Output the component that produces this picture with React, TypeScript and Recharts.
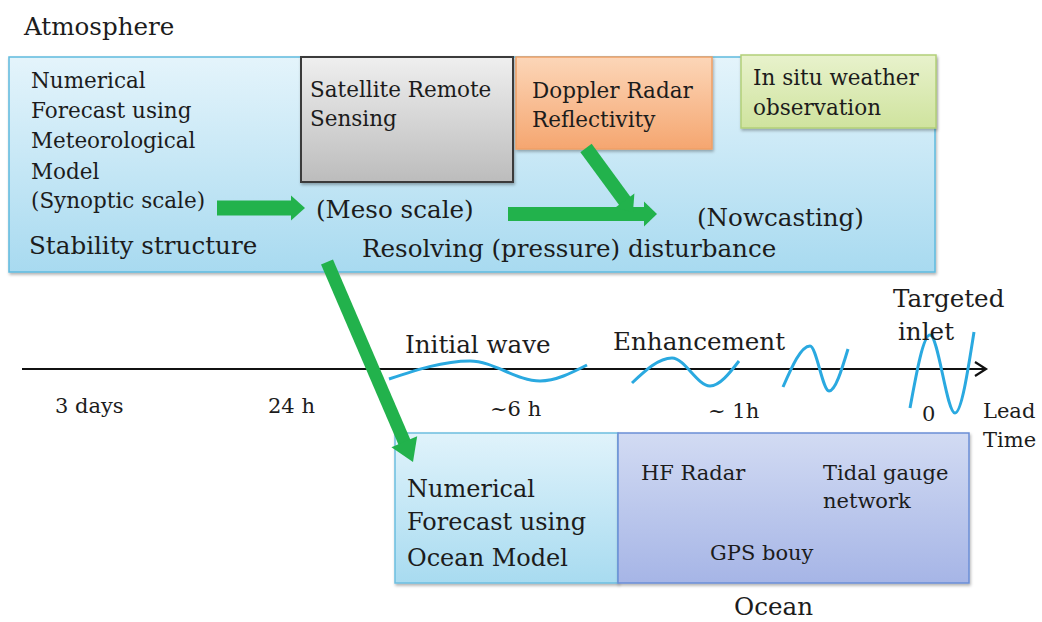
import React from 'react';
import { ComposedChart, XAxis, YAxis, ReferenceArea, Line, Scatter } from 'recharts';

// ---------- diagram data (pixel-space coordinates of the 1042x622 picture) ----------
const boxIds = ['atm', 'sat', 'dop', 'ins', 'ocm', 'oco'];
const boxX1 = [9, 301, 516, 741, 395, 618];
const boxX2 = [935, 513, 712, 936, 618, 969];
const boxY1 = [57, 57, 57, 55, 433, 433];
const boxY2 = [272, 182, 149, 128, 583, 583];

const labelTexts = [
  'Atmosphere',
  'Numerical', 'Forecast using', 'Meteorological', 'Model', '(Synoptic scale)',
  'Stability structure',
  'Satellite Remote', 'Sensing',
  '(Meso scale)',
  'Resolving (pressure) disturbance',
  'Doppler Radar', 'Reflectivity',
  'In situ weather', 'observation',
  '(Nowcasting)',
  'Initial wave', 'Enhancement', 'Targeted', 'inlet',
  '3 days', '24 h', '~6 h', '~ 1h', '0', 'Lead', 'Time',
  'Numerical', 'Forecast using', 'Ocean Model',
  'HF Radar', 'Tidal gauge', 'network', 'GPS bouy',
  'Ocean',
];
const labelX = [
  24,
  31, 31, 31, 31, 31,
  29,
  310, 310,
  316,
  362,
  532, 532,
  753, 753,
  697,
  405, 613, 893, 898,
  55, 268, 490, 708, 922, 983, 983,
  407, 407, 407,
  641, 823, 823, 710,
  734,
];
const labelY = [
  35,
  88, 118, 148, 179, 208,
  254,
  97, 126,
  218,
  257,
  98, 127,
  85, 115,
  226,
  353, 350, 307, 340,
  413, 413, 416, 418, 421, 418, 447,
  497, 530, 566,
  480, 480, 508, 560,
  615,
];
const labelKind = [
  'big',
  'mid', 'mid', 'mid', 'mid', 'mid',
  'big',
  'mid', 'mid',
  'big',
  'big',
  'mid', 'mid',
  'mid', 'mid',
  'big',
  'big', 'big', 'big', 'big',
  'tick', 'tick', 'tick', 'tick', 'tick', 'tick', 'tick',
  'ocean', 'ocean', 'ocean',
  'tick', 'tick', 'tick', 'tick',
  'big',
];

// timeline
const timelineX = [22, 986];
const timelineY = 369;

// waves (start, peak, trough, end)
const wave1X = [389, 470, 540, 587];
const wave1Y = [379, 361, 381, 365];
const wave2X = [632, 672, 710, 739];
const wave2Y = [383, 358, 386, 361];
const wave3X = [783, 810, 829, 848];
const wave3Y = [387, 346, 391, 349];
const wave4X = [910, 930, 955, 974];
const wave4Y = [408, 335, 413, 332];

// green arrows: from -> tip
const arrowFromX = [217, 508, 586, 327];
const arrowFromY = [208, 214, 148, 262];
const arrowTipX = [305, 657, 633, 413];
const arrowTipY = [208, 214, 212, 462];

// ---------- styles ----------
const FONT = '"DejaVu Serif", serif';
const fontSizes: Record<string, number> = { big: 24.6, mid: 21.5, tick: 21, ocean: 24 };
const boxStyle: Record<string, { top: string; bottom: string; stroke: string; sw: number }> = {
  atm: { top: '#e4f4fb', bottom: '#a8daf0', stroke: '#5fbbde', sw: 1.5 },
  sat: { top: '#efefef', bottom: '#bcbcbc', stroke: '#3a3a3a', sw: 2 },
  dop: { top: '#fcd6b8', bottom: '#f5a670', stroke: '#f0a066', sw: 1.5 },
  ins: { top: '#e8f2cc', bottom: '#cfe39e', stroke: '#b3cf78', sw: 1.5 },
  ocm: { top: '#e0f3fb', bottom: '#a8dbf0', stroke: '#6cbfe0', sw: 1.5 },
  oco: { top: '#d2dbf3', bottom: '#a6b5e6', stroke: '#6b8ed6', sw: 1.5 },
};
const GREEN = '#22b24c';
const WAVE = '#2aa9e0';
const arrowShaft = [15, 14, 14, 13];
const arrowHeadLen = [14, 13, 14, 22];
const arrowHeadW = [25, 25, 24, 28];

const labels = labelTexts.map((t, i) => ({ x: labelX[i], y: labelY[i], text: t, kind: labelKind[i] }));
const mkWave = (xs: number[], ys: number[]) => xs.map((x, i) => ({ x, y: ys[i] }));
const waves = [mkWave(wave1X, wave1Y), mkWave(wave2X, wave2Y), mkWave(wave3X, wave3Y), mkWave(wave4X, wave4Y)];

const arrows = arrowFromX.map((fx, i) => {
  const dx = arrowTipX[i] - fx;
  const dy = arrowTipY[i] - arrowFromY[i];
  const len = Math.sqrt(dx * dx + dy * dy);
  const ux = dx / len, uy = dy / len;
  const bx = arrowTipX[i] - ux * (arrowHeadLen[i] - 1);
  const by = arrowTipY[i] - uy * (arrowHeadLen[i] - 1);
  return {
    shaft: [{ x: fx, y: arrowFromY[i] }, { x: bx, y: by }],
    tip: [{ x: arrowTipX[i], y: arrowTipY[i], angle: (Math.atan2(dy, dx) * 180) / Math.PI, idx: i }],
  };
});

const LabelShape = (p: any) => {
  const d = p.payload;
  return (
    <text x={p.cx} y={p.cy} fontFamily={FONT} fontSize={fontSizes[d.kind]} fill="#1c1c1c">
      {d.text}
    </text>
  );
};

const HeadShape = (p: any) => {
  const d = p.payload;
  const L = arrowHeadLen[d.idx];
  const w = arrowHeadW[d.idx] / 2;
  return (
    <polygon
      points={`0,0 ${-L},${-w} ${-L},${w}`}
      fill={GREEN}
      transform={`translate(${p.cx},${p.cy}) rotate(${d.angle})`}
    />
  );
};

const ChevronShape = (p: any) => (
  <path d={`M${p.cx - 11},${p.cy - 7} L${p.cx},${p.cy} L${p.cx - 11},${p.cy + 7}`} stroke="#111" strokeWidth={2.2} fill="none" />
);

export default function App() {
  return (
    <div style={{ position: 'absolute', left: 0, top: 0, width: 1042, height: 622, background: '#fff' }}>
      <ComposedChart width={1042} height={622} margin={{ top: 0, right: 0, bottom: 0, left: 0 }}>
        <defs>
          {boxIds.map((id) => (
            <linearGradient key={id} id={`g-${id}`} x1="0" y1="0" x2="0" y2="1">
              <stop offset="0%" stopColor={boxStyle[id].top} />
              <stop offset="100%" stopColor={boxStyle[id].bottom} />
            </linearGradient>
          ))}
          <filter id="shadow" x="-5%" y="-5%" width="110%" height="115%">
            <feDropShadow dx="1" dy="2" stdDeviation="1.5" floodColor="#000" floodOpacity="0.3" />
          </filter>
        </defs>
        <XAxis type="number" dataKey="x" domain={[0, 1042]} hide allowDataOverflow />
        <YAxis type="number" dataKey="y" domain={[0, 622]} reversed hide allowDataOverflow width={0} />
        {boxIds.map((id, i) => (
          <ReferenceArea
            key={id}
            x1={boxX1[i]}
            x2={boxX2[i]}
            y1={boxY1[i]}
            y2={boxY2[i]}
            fill={`url(#g-${id})`}
            fillOpacity={1}
            stroke={boxStyle[id].stroke}
            strokeWidth={boxStyle[id].sw}
            style={{ filter: 'url(#shadow)' }}
            ifOverflow="visible"
          />
        ))}
        <Line
          data={[{ x: timelineX[0], y: timelineY }, { x: timelineX[1] - 1, y: timelineY }]}
          dataKey="y"
          stroke="#111"
          strokeWidth={2.2}
          dot={false}
          activeDot={false}
          isAnimationActive={false}
        />
        <Scatter data={[{ x: timelineX[1], y: timelineY }]} dataKey="y" shape={ChevronShape} isAnimationActive={false} />
        <Scatter data={labels} dataKey="y" shape={LabelShape} isAnimationActive={false} />
        {waves.map((w, i) => (
          <Line
            key={`w${i}`}
            data={w}
            dataKey="y"
            type="monotoneX"
            stroke={WAVE}
            strokeWidth={3}
            dot={false}
            activeDot={false}
            isAnimationActive={false}
          />
        ))}
        {arrows.map((a, i) => (
          <Line
            key={`a${i}`}
            data={a.shaft}
            dataKey="y"
            stroke={GREEN}
            strokeWidth={arrowShaft[i]}
            strokeLinecap="butt"
            dot={false}
            activeDot={false}
            isAnimationActive={false}
          />
        ))}
        {arrows.map((a, i) => (
          <Scatter key={`h${i}`} data={a.tip} dataKey="y" shape={HeadShape} isAnimationActive={false} />
        ))}
      </ComposedChart>
    </div>
  );
}
